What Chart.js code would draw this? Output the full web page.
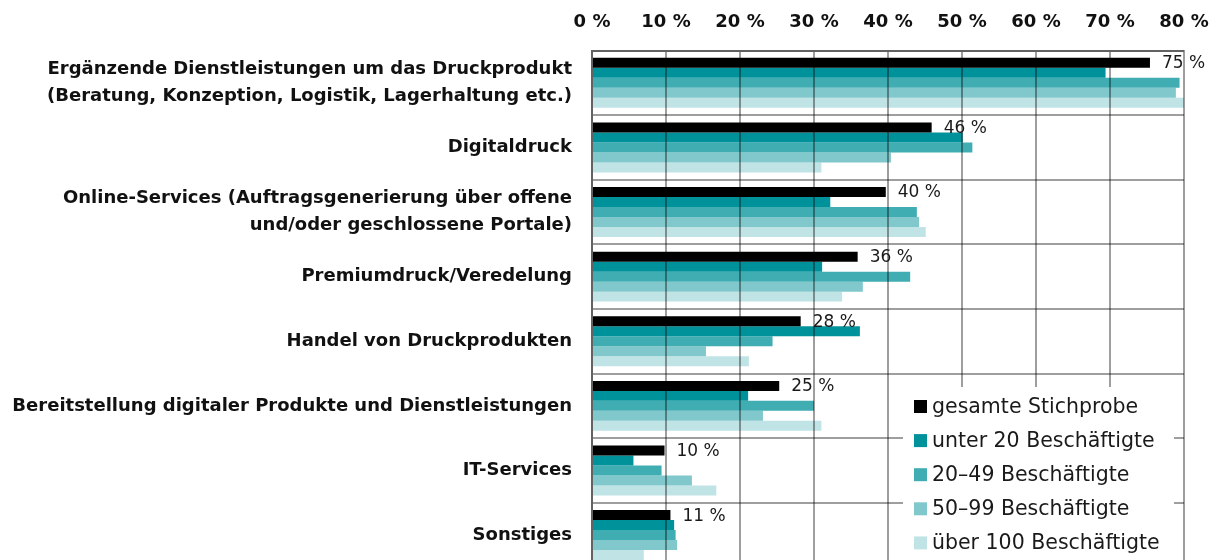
<!DOCTYPE html>
<html lang="de">
<head>
<meta charset="utf-8">
<title>Geschäftsfelder</title>
<script src="https://cdn.jsdelivr.net/npm/chart.js@4/dist/chart.umd.min.js"></script>
<style>
  html, body { margin: 0; padding: 0; background: #fff; overflow: hidden; }
</style>
</head>
<body>
<canvas id="myChart" width="1220" height="570"></canvas>
<script>
// categories (top to bottom)
var categories = [
    ["Ergänzende Dienstleistungen um das Druckprodukt", "(Beratung, Konzeption, Logistik, Lagerhaltung etc.)"],
    "Digitaldruck",
    ["Online-Services (Auftragsgenerierung über offene", "und/oder geschlossene Portale)"],
    "Premiumdruck/Veredelung",
    "Handel von Druckprodukten",
    "Bereitstellung digitaler Produkte und Dienstleistungen",
    "IT-Services",
    "Sonstiges"
];

var seriesNames = ["gesamte Stichprobe", "unter 20 Beschäftigte", "20–49 Beschäftigte", "50–99 Beschäftigte", "über 100 Beschäftigte"];

// values in percent
var gesamt   = [75.4, 45.9, 39.7, 35.9, 28.2, 25.3, 9.8, 10.6];
var unter20  = [69.4, 50.1, 32.2, 31.1, 36.2, 21.1, 5.6, 11.1];
var von20    = [79.4, 51.4, 43.9, 43.0, 24.4, 30.0, 9.4, 11.3];
var von50    = [78.9, 40.4, 44.2, 36.6, 15.4, 23.1, 13.5, 11.5];
var ueber100 = [80.0, 31.0, 45.1, 33.8, 21.2, 31.0, 16.8, 7.0];

var tickValues = [0, 10, 20, 30, 40, 50, 60, 70, 80];

var colours = ["#000000", "#00929a", "#40adb3", "#80c8cc", "#c0e4e6"];
var allSeries = [gesamt, unter20, von20, von50, ueber100];

var fontFamily = "'DejaVu Sans', sans-serif";
var gridColour = "rgba(0,0,0,0.38)";

// labels next to the black bars
var barLabels = {
    id: "barLabels",
    afterDraw: function(chart) {
        var ctx = chart.ctx;
        var meta = chart.getDatasetMeta(0);
        ctx.save();
        ctx.font = "17px " + fontFamily;
        ctx.fillStyle = "#1a1a1a";
        ctx.textAlign = "left";
        ctx.textBaseline = "middle";
        meta.data.forEach(function(bar, i) {
            ctx.fillText(Math.round(gesamt[i]) + " %", bar.x + 12, bar.y + 1);
        });
        ctx.restore();
    }
};

// legend box sitting inside the plot, bottom right
var boxLegend = {
    id: "boxLegend",
    afterDraw: function(chart) {
        var ctx = chart.ctx;
        var area = chart.chartArea;
        var left = area.right - 281;
        var top = area.top + 336.5;
        ctx.save();
        ctx.fillStyle = "#ffffff";
        ctx.fillRect(left, top, 271, chart.height - top);
        ctx.font = "20.5px " + fontFamily;
        ctx.textAlign = "left";
        ctx.textBaseline = "middle";
        chart.data.datasets.forEach(function(ds, i) {
            var y = top + 19.5 + i * 34.1;
            ctx.fillStyle = ds.backgroundColor;
            ctx.fillRect(left + 11, y - 6.5, 13, 13);
            ctx.fillStyle = "#1a1a1a";
            ctx.fillText(ds.label, left + 29, y + 1);
        });
        ctx.restore();
    }
};

var ctx = document.getElementById("myChart").getContext("2d");

new Chart(ctx, {
    type: "bar",
    data: {
        labels: categories,
        datasets: allSeries.map(function(values, i) {
            return {
                label: seriesNames[i],
                data: values,
                backgroundColor: colours[i],
                borderWidth: 0,
                categoryPercentage: 0.773,
                barPercentage: 1.0
            };
        })
    },
    options: {
        indexAxis: "y",
        responsive: false,
        animation: false,
        layout: {
            padding: { top: 0, right: 36, bottom: 2.6, left: 0 }
        },
        plugins: {
            legend: { display: false },
            tooltip: { enabled: false }
        },
        scales: {
            x: {
                position: "top",
                min: 0,
                max: 80,
                afterBuildTicks: function(scale) {
                    scale.ticks = tickValues.map(function(v) { return { value: v }; });
                },
                afterFit: function(scale) {
                    scale.height = 50.5;
                    scale.paddingLeft = 0;
                    scale.paddingRight = 0;
                },
                grid: {
                    color: gridColour,
                    lineWidth: 2,
                    drawTicks: false,
                    z: 1
                },
                border: { color: gridColour, width: 2, z: 1 },
                ticks: {
                    padding: 17,
                    color: "#111111",
                    font: { family: fontFamily, size: 18, weight: "bold" },
                    callback: function(v) { return v + " %"; }
                }
            },
            y: {
                afterFit: function(scale) {
                    scale.width = 592;
                    scale.paddingTop = 0;
                    scale.paddingBottom = 0;
                },
                grid: {
                    color: gridColour,
                    lineWidth: 2,
                    drawTicks: false,
                    z: 1
                },
                border: { color: gridColour, width: 2, z: 1 },
                ticks: {
                    padding: 20,
                    color: "#111111",
                    font: { family: fontFamily, size: 18, weight: "bold", lineHeight: "26.5px" }
                }
            }
        }
    },
    plugins: [barLabels, boxLegend]
});
</script>
</body>
</html>
